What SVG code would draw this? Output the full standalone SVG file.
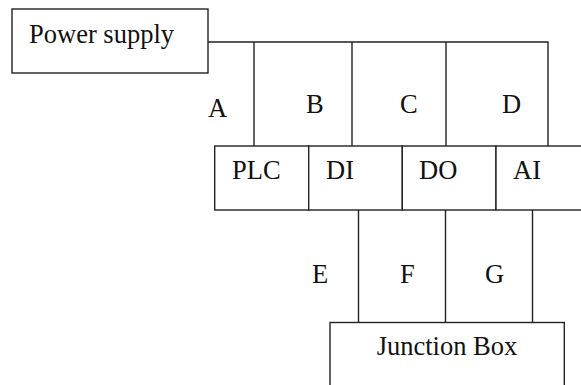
<svg xmlns="http://www.w3.org/2000/svg" width="581" height="385" viewBox="0 0 581 385">
<style>
.box{fill:#fff;stroke:#222;stroke-width:1.4}
.ln{fill:none;stroke:#222;stroke-width:1.4}
text{font-family:"Liberation Serif","Times New Roman",serif;font-size:26.5px;fill:#111}
</style>
<rect x="0" y="0" width="581" height="385" fill="#fff"/>
<g id="connectors">
<polyline class="ln" points="208,42 548,42 548,146"/>
<line class="ln" x1="254" y1="42" x2="254" y2="146"/>
<line class="ln" x1="352" y1="42" x2="352" y2="146"/>
<line class="ln" x1="446" y1="42" x2="446" y2="146"/>
<line class="ln" x1="358.5" y1="210" x2="358.5" y2="322.5"/>
<line class="ln" x1="445.5" y1="210" x2="445.5" y2="322.5"/>
<line class="ln" x1="532.5" y1="210" x2="532.5" y2="322.5"/>
<text x="208" y="117">A</text>
<text x="306" y="113">B</text>
<text x="400" y="113">C</text>
<text x="502" y="113">D</text>
<text x="312" y="283">E</text>
<text x="400" y="283">F</text>
<text x="485" y="283">G</text>
</g>
<g id="power-supply">
<rect class="box" x="12" y="9" width="196" height="64"/>
<text x="29" y="43">Power supply</text>
</g>
<g id="plc">
<rect class="box" x="214.7" y="146" width="94" height="64"/>
<text x="232" y="179">PLC</text>
</g>
<g id="di">
<rect class="box" x="308.7" y="146" width="93.6" height="64"/>
<text x="326" y="179">DI</text>
</g>
<g id="do">
<rect class="box" x="402.3" y="146" width="93.7" height="64"/>
<text x="419" y="179">DO</text>
</g>
<g id="ai">
<rect class="box" x="496" y="146" width="100" height="64"/>
<text x="513" y="179">AI</text>
</g>
<g id="junction-box">
<rect class="box" x="330" y="322.5" width="234.3" height="80"/>
<text x="447" y="355" text-anchor="middle">Junction Box</text>
</g>
</svg>
